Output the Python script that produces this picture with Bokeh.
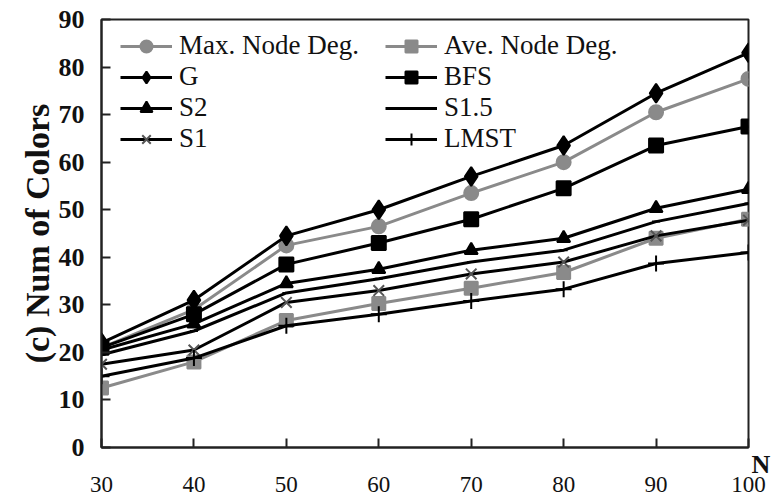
from bokeh.plotting import figure
from bokeh.models import Legend, LegendItem, LinearAxis, Range1d, FixedTicker
from bokeh.embed import file_html
from bokeh.resources import INLINE

# ---- data ----
N = [30, 40, 50, 60, 70, 80, 90, 100]
max_deg = [21, 29, 42.5, 46.5, 53.5, 60, 70.5, 77.5]
ave_deg = [12.5, 18, 26.7, 30.3, 33.5, 36.8, 44, 48]
g_vals = [22, 31, 44.5, 50, 57, 63.5, 74.5, 83]
bfs_vals = [21, 28, 38.5, 43, 48, 54.5, 63.5, 67.5]
s2_vals = [20.5, 26, 34.5, 37.5, 41.5, 44, 50.3, 54.3]
s15_vals = [19.5, 24.5, 32.5, 35.5, 39, 41.5, 47.5, 51.3]
s1_vals = [17.5, 20.5, 30.5, 33, 36.5, 39, 44.5, 47.8]
lmst_vals = [15, 18.8, 25.6, 28, 30.8, 33.3, 38.7, 41]
x_ticks = [30, 40, 50, 60, 70, 80, 90, 100]
y_ticks = [0, 10, 20, 30, 40, 50, 60, 70, 80, 90]

FONT = "Liberation Serif"
GRAY = "#8a8a8a"
BLACK = "#000000"

p = figure(width=774, height=501, output_backend="svg", toolbar_location=None,
           x_range=Range1d(30, 100), y_range=Range1d(0, 90),
           min_border_left=101, min_border_right=26, min_border_top=19, min_border_bottom=54)
p.xgrid.visible = False
p.ygrid.visible = False
p.outline_line_color = "#222222"
p.outline_line_width = 2
p.background_fill_color = "white"
p.border_fill_color = "white"

# axes
p.xaxis.ticker = FixedTicker(ticks=x_ticks)
p.yaxis.ticker = FixedTicker(ticks=y_ticks)
for ax in (p.xaxis[0], p.yaxis[0]):
    ax.axis_line_width = 2
    ax.axis_line_color = "#222222"
    ax.major_tick_in = 9
    ax.major_tick_out = 0
    ax.major_tick_line_width = 2
    ax.major_tick_line_color = "#222222"
    ax.minor_tick_line_color = None
    ax.major_label_text_font = FONT
    ax.major_label_text_color = "#111111"
p.xaxis.major_label_text_font_size = "23px"
p.xaxis.major_label_text_font_style = "normal"
p.xaxis.major_label_standoff = 29
p.yaxis.major_label_text_font_size = "26px"
p.yaxis.major_label_text_font_style = "bold"
p.yaxis.major_label_standoff = 17
p.yaxis.axis_label = "(c) Num of Colors"
p.yaxis.axis_label_text_font = FONT
p.yaxis.axis_label_text_font_size = "34px"
p.yaxis.axis_label_text_font_style = "bold"
p.yaxis.axis_label_text_color = "#111111"
p.yaxis.axis_label_standoff = 0

# "N" label at the lower right corner (a right-side axis with a single labelled tick)
n_axis = LinearAxis(ticker=FixedTicker(ticks=[0]), major_label_overrides={0: "\nN"},
                    axis_line_color=None, major_tick_line_color=None,
                    major_tick_in=0, major_tick_out=0, axis_label_standoff=0,
                    minor_tick_line_color=None, major_label_standoff=3,
                    major_label_text_font=FONT, major_label_text_font_size="26px",
                    major_label_text_font_style="bold", major_label_text_color="#111111")
p.add_layout(n_axis, "right")

LW = 3

def series(vals, color, marker, size, lw=LW, mcolor=None):
    mcolor = mcolor or color
    l = p.line(N, vals, line_color=color, line_width=lw)
    m = p.scatter(N, vals, marker=marker, size=size, line_color=mcolor,
                  fill_color=mcolor, line_width=2)
    return [l, m]

r_max = series(max_deg, GRAY, "circle", 14)
r_ave = series(ave_deg, GRAY, "square", 13)
r_g = series(g_vals, BLACK, "diamond", 19)
r_bfs = series(bfs_vals, BLACK, "square", 14)
r_s2 = series(s2_vals, BLACK, "triangle", 13)
r_s15 = series(s15_vals, BLACK, "dash", 8)
r_s1 = series(s1_vals, BLACK, "x", 15, mcolor="#555555")
r_lmst = series(lmst_vals, BLACK, "cross", 16)

def make_legend(items, x):
    lg = Legend(items=items, location=(x, 293), orientation="vertical",
                border_line_color=None, background_fill_alpha=0,
                padding=0, margin=0, spacing=0,
                glyph_width=52, glyph_height=30, label_height=30,
                label_standoff=7,
                label_text_font=FONT, label_text_font_size="27px",
                label_text_color="#111111")
    p.add_layout(lg, "center")

make_legend([LegendItem(label="Max. Node Deg.", renderers=r_max),
             LegendItem(label="G", renderers=r_g),
             LegendItem(label="S2", renderers=r_s2),
             LegendItem(label="S1", renderers=r_s1)], 19)
make_legend([LegendItem(label="Ave. Node Deg.", renderers=r_ave),
             LegendItem(label="BFS", renderers=r_bfs),
             LegendItem(label="S1.5", renderers=r_s15),
             LegendItem(label="LMST", renderers=r_lmst)], 284)

open("out.html", "w").write(file_html(p, INLINE))
